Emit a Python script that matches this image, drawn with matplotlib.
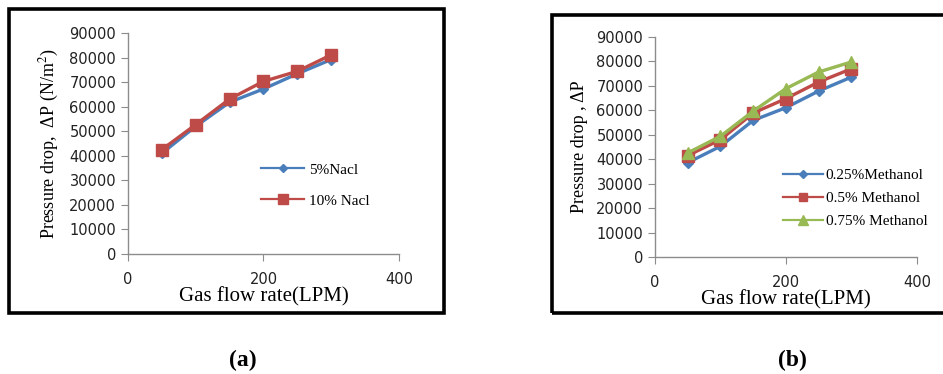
import matplotlib
matplotlib.use('Agg')
import matplotlib.pyplot as plt
from matplotlib.patches import Rectangle

# gas flow rate (LPM)
flow = [50, 100, 150, 200, 250, 300]

# panel (a): NaCl solutions
nacl_5 = [41000, 52000, 61800, 67200, 73400, 79200]
nacl_10 = [42500, 52700, 63100, 70300, 74400, 81100]

# panel (b): methanol solutions
meth_025 = [38600, 45300, 55900, 61100, 67900, 73600]
meth_05 = [41500, 48000, 58900, 64800, 71600, 77000]
meth_075 = [42600, 49400, 59700, 68900, 75700, 79800]

x_ticks = [0, 200, 400]
y_ticks = list(range(0, 90001, 10000))

BLUE = '#4A7EBB'
RED = '#BE4B48'
GREEN = '#98B954'
GRAY = '#8C8C8C'

SERIF = ['Liberation Serif', 'DejaVu Serif']
SANS = ['DejaVu Sans']

plt.rcParams['mathtext.fontset'] = 'stix'


def style_axes(ax, ylabel):
    ax.set_xlim(0, 400)
    ax.set_ylim(0, 90000)
    ax.set_xticks(x_ticks)
    ax.set_yticks(y_ticks)
    for side in ('top', 'right'):
        ax.spines[side].set_visible(False)
    for side in ('left', 'bottom'):
        ax.spines[side].set_color(GRAY)
        ax.spines[side].set_linewidth(1.0)
    ax.tick_params(axis='both', direction='out', color=GRAY, length=5,
                   labelsize=10.5, labelcolor='#222222')
    ax.tick_params(axis='x', pad=8)
    for lab in ax.get_xticklabels() + ax.get_yticklabels():
        lab.set_family(SANS)
    ax.set_xlabel('Gas flow rate(LPM)', family=SERIF, fontsize=15, labelpad=0)
    ax.set_ylabel(ylabel, family=SERIF, fontsize=13, labelpad=6)


fig = plt.figure(figsize=(9.43, 3.74), dpi=100)

# outer black frames
fig.patches.append(Rectangle((9 / 943, 1 - 313 / 374), (444 - 9) / 943, (313 - 9) / 374,
                             transform=fig.transFigure, fill=False,
                             edgecolor='black', linewidth=2.6))
fig.patches.append(Rectangle((552 / 943, 1 - 313 / 374), (960 - 552) / 943, (313 - 15) / 374,
                             transform=fig.transFigure, fill=False,
                             edgecolor='black', linewidth=2.6))

# panel (a)
ax1 = fig.add_axes([0.1357, 0.3209, 0.2874, 0.5909])
ax1.plot(flow, nacl_5, color=BLUE, lw=2.4, marker='D', ms=5, label='5%Nacl')
ax1.plot(flow, nacl_10, color=RED, lw=2.4, marker='s', ms=9, label='10% Nacl')
style_axes(ax1, 'Pressure drop,  \u0394P (N/m$^2$)')
ax1.legend(loc='upper left', bbox_to_anchor=(0.47, 0.44), frameon=False,
           prop={'family': SERIF, 'size': 11}, handlelength=2.8, markerscale=0.75,
           labelspacing=1.15, handletextpad=0.3, borderaxespad=0)
for line in ax1.get_legend().get_lines():
    line.set_linewidth(1.6)

# panel (b)
ax2 = fig.add_axes([0.6946, 0.3128, 0.2778, 0.5883])
ax2.plot(flow, meth_025, color=BLUE, lw=2.4, marker='D', ms=5, label='0.25%Methanol')
ax2.plot(flow, meth_05, color=RED, lw=2.4, marker='s', ms=8, label='0.5% Methanol')
ax2.plot(flow, meth_075, color=GREEN, lw=2.4, marker='^', ms=9, label='0.75% Methanol')
style_axes(ax2, 'Pressure drop , \u0394P')
ax2.legend(loc='upper left', bbox_to_anchor=(0.465, 0.43), frameon=False,
           prop={'family': SERIF, 'size': 11}, handlelength=2.6, markerscale=0.75,
           labelspacing=0.6, handletextpad=0.2, borderaxespad=0)
for line in ax2.get_legend().get_lines():
    line.set_linewidth(1.6)

fig.text(243 / 943, 1 - 360 / 374, '(a)', family=SERIF, fontsize=17,
         fontweight='bold', ha='center', va='center')
fig.text(792 / 943, 1 - 360 / 374, '(b)', family=SERIF, fontsize=17,
         fontweight='bold', ha='center', va='center')

fig.savefig('out.png', dpi=100)
